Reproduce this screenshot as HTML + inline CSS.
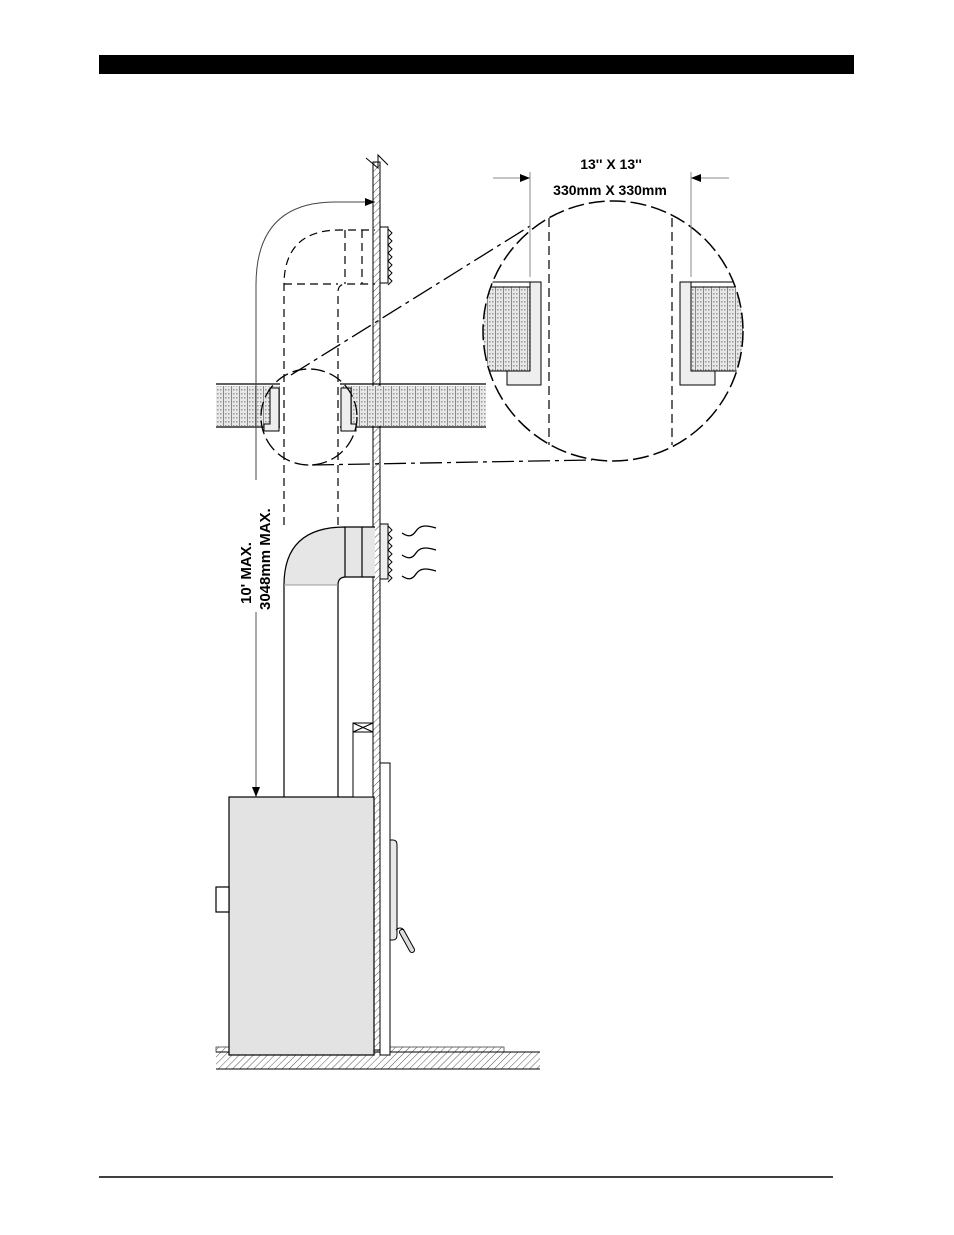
<!DOCTYPE html>
<html><head><style>body{margin:0;background:#fff}svg{display:block}</style></head><body>
<svg width="954" height="1235" viewBox="0 0 954 1235" xmlns="http://www.w3.org/2000/svg" font-family="Liberation Sans, sans-serif">
<defs>
<pattern id="ins" width="8" height="4" patternUnits="userSpaceOnUse"><rect width="8" height="4" fill="#e8e8e8"/><rect x="1" y="1" width="1.5" height="1.5" fill="#999"/><rect x="4" y="1" width="1.5" height="1.5" fill="#999"/><rect x="7" y="0" width="1" height="4" fill="#888"/></pattern>
<pattern id="hat" width="5" height="5" patternUnits="userSpaceOnUse" patternTransform="rotate(45)"><rect width="5" height="5" fill="#fff"/><line x1="0" y1="0" x2="0" y2="5" stroke="#555" stroke-width="1"/></pattern>
<marker id="ar" markerWidth="10" markerHeight="8" refX="10" refY="4" orient="auto" markerUnits="userSpaceOnUse"><path d="M0,0 L10,4 L0,8z" fill="#000"/></marker>
<clipPath id="bc"><circle cx="613" cy="331" r="130"/></clipPath>
</defs>
<rect x="99" y="55" width="755" height="19" fill="#000"/>
<line x1="99" y1="1177" x2="833" y2="1177" stroke="#000" stroke-width="1.5"/>

<!-- floor -->
<rect x="216" y="1047" width="288" height="5" fill="url(#hat)" stroke="#444" stroke-width="0.8"/>
<rect x="216" y="1052" width="324" height="17" fill="url(#hat)"/>
<line x1="216" y1="1052" x2="540" y2="1052" stroke="#000"/>
<line x1="216" y1="1069" x2="540" y2="1069" stroke="#000"/>

<!-- wall -->
<rect x="373" y="162" width="7" height="888" fill="url(#hat)" stroke="#000" stroke-width="1"/>
<path d="M366,158 L378,168 L378,155 L388,165" fill="none" stroke="#000"/>

<!-- ceiling -->
<rect x="216" y="386" width="64" height="40" fill="url(#ins)"/>
<rect x="341" y="386" width="145" height="40" fill="url(#ins)"/>
<path d="M216,384H280M216,427H280M340,384H486M340,427H486" stroke="#000" stroke-width="1.2"/>
<path d="M270,388H279V431H264V424H270Z" fill="#eee" stroke="#000"/>
<path d="M351,388H341V431H356V424H351Z" fill="#eee" stroke="#000"/>

<!-- upper dashed pipe -->
<g fill="none" stroke="#000" stroke-width="1.2" stroke-dasharray="8,5">
<path d="M284,525V285Q284,230 340,230H375"/>
<path d="M338,525V292Q338,284 346,284H375"/>
<line x1="284" y1="284" x2="338" y2="284"/>
<line x1="345" y1="230" x2="345" y2="284"/>
<line x1="362" y1="230" x2="362" y2="284"/>
</g>
<rect x="380" y="227" width="8" height="56" fill="#fff" stroke="#000"/>
<path d="M388,229 l4,4 -4,4 4,4 -4,4 4,4 -4,4 4,4 -4,4 4,4 -4,4 4,4 -4,4 4,4 -4,4" fill="none" stroke="#000"/>

<!-- dimension arc -->
<path d="M256,480V285Q256,202 335,202H375" fill="none" stroke="#444" stroke-width="1" marker-end="url(#ar)"/>
<path d="M256,612V797" fill="none" stroke="#555" stroke-width="1" marker-end="url(#ar)"/>
<text transform="translate(251,604) rotate(-90)" font-size="15" font-weight="bold">10' MAX.</text>
<text transform="translate(270,610) rotate(-90)" font-size="15" font-weight="bold">3048mm MAX.</text>

<!-- small circle & callout -->
<circle cx="309" cy="417" r="48" fill="none" stroke="#000" stroke-width="1.3" stroke-dasharray="14,5"/>
<path d="M291,375L530,226" stroke="#000" stroke-width="1.3" stroke-dasharray="22,5,4,5" fill="none"/>
<path d="M312,465L592,460" stroke="#000" stroke-width="1.3" stroke-dasharray="22,5,4,5" fill="none"/>

<!-- lower pipe -->
<path d="M284,797V585Q284,527 345,527H375V577H346Q338,577 338,585V797Z" fill="#e6e6e6" stroke="none"/>
<rect x="284" y="585" width="54" height="212" fill="#fff"/>
<path d="M284,797V585Q284,527 345,527H375M338,797V585Q338,577 346,577H375M345,527V577M362,527V577" fill="none" stroke="#000" stroke-width="1.2"/>
<line x1="284" y1="585" x2="338" y2="585" stroke="#999"/>
<rect x="380" y="524" width="8" height="55" fill="#eee" stroke="#000"/>
<path d="M388,526 l4,4 -4,4 4,4 -4,4 4,4 -4,4 4,4 -4,4 4,4 -4,4 4,4 -4,4 4,4 -4,4" fill="none" stroke="#000"/>
<g fill="none" stroke="#000" stroke-width="1.3">
<path d="M402,533c6,4 10,4 14,-2s10,-6 20,-3"/>
<path d="M402,555c6,4 10,4 14,-2s10,-6 20,-3"/>
<path d="M402,576c6,4 10,4 14,-2s10,-6 20,-3"/>
</g>

<!-- stove -->
<rect x="229" y="797" width="145" height="258" fill="#e3e3e3" stroke="#000" stroke-width="1.2"/>
<rect x="216" y="887" width="13" height="25" fill="#fff" stroke="#000" stroke-width="1.2"/>
<rect x="353" y="723" width="20" height="74" fill="#fff" stroke="#000"/>
<path d="M353,723H373V732H353ZM353,723L373,732M373,723L353,732" fill="none" stroke="#000"/>
<rect x="380" y="763" width="10" height="292" fill="#fff" stroke="#000"/>
<path d="M390,840h3q4,0 4,5v90q0,5 -4,5h-3z" fill="#e8e8e8" stroke="#000"/>
<path d="M396,930q4,-4 8,0" fill="none" stroke="#000"/>
<path d="M402,932l10,18" stroke="#000" stroke-width="6" stroke-linecap="round"/>
<path d="M402,932l10,18" stroke="#ddd" stroke-width="4" stroke-linecap="round"/>

<!-- big circle contents -->
<g clip-path="url(#bc)">
<rect x="482" y="287" width="48" height="84" fill="url(#ins)" stroke="#000"/>
<path d="M482,282H541V385H507V371H530V282" fill="#eee" stroke="#000"/>
<rect x="691" y="287" width="52" height="84" fill="url(#ins)" stroke="#000"/>
<path d="M743,282H680V385H715V371H691V282" fill="#eee" stroke="#000"/>
</g>
<g stroke="#000" stroke-width="1.2" stroke-dasharray="9,5"><line x1="549" y1="218" x2="549" y2="445"/><line x1="672" y1="218" x2="672" y2="445"/></g>
<circle cx="613" cy="331" r="130" fill="none" stroke="#000" stroke-width="1.5" stroke-dasharray="16,5"/>
<g stroke="#888" stroke-width="1"><line x1="530" y1="172" x2="530" y2="277"/><line x1="691" y1="172" x2="691" y2="277"/></g>
<line x1="493" y1="178" x2="530" y2="178" stroke="#888" marker-end="url(#ar)"/>
<line x1="729" y1="178" x2="691" y2="178" stroke="#888" marker-end="url(#ar)"/>
<text x="611" y="169" font-size="14" font-weight="bold" text-anchor="middle">13'' X 13''</text>
<text x="610" y="195" font-size="14" font-weight="bold" text-anchor="middle">330mm X 330mm</text>
</svg>
</body></html>
